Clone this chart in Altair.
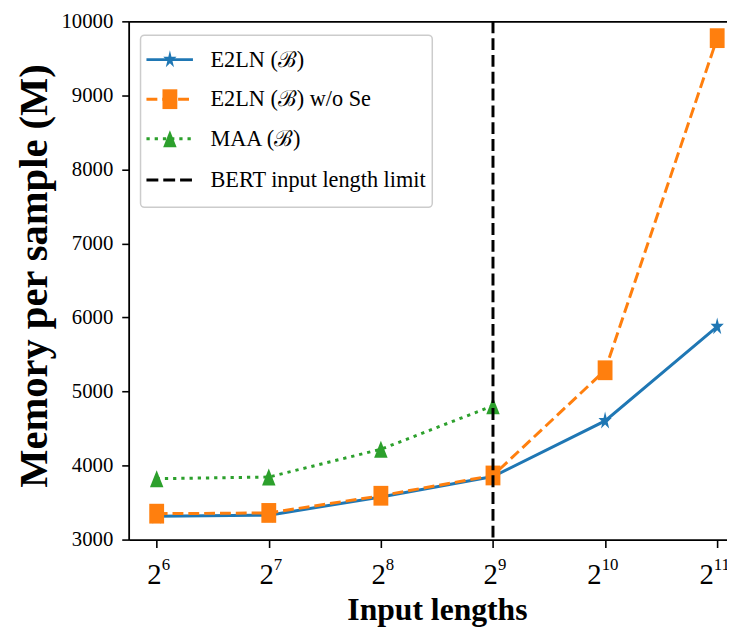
import altair as alt
import pandas as pd

# ---- data ----
lengths = [64, 128, 256, 512, 1024, 2048]
e2ln = [3315, 3330, 3575, 3852, 4603, 5875]
e2ln_wo_se = [3350, 3360, 3592, 3866, 5287, 9773]
maa_lengths = [64, 128, 256, 512]
maa = [3822, 3845, 4220, 4808]
bert_limit = 512
y_ticks = [3000, 4000, 5000, 6000, 7000, 8000, 9000, 10000]
x_exps = ["6", "7", "8", "9", "10", "11"]
series_names = ["E2LN (ℬ)", "E2LN (ℬ) w/o Se", "MAA (ℬ)", "BERT input length limit"]
colors = ["#1f77b4", "#ff7f0e", "#2ca02c", "#000000"]

FONT = "Liberation Serif"

# marker shapes (slightly narrow, as in the reference)
STAR = ("M0,-1L0.168,-0.309L0.713,-0.309L0.272,0.118L0.441,0.809L0,0.382"
        "L-0.441,0.809L-0.272,0.118L-0.713,-0.309L-0.168,-0.309Z")
SQUARE = "M-0.75,-1L0.75,-1L0.75,1L-0.75,1Z"
TRIANGLE = "M0,-1L0.8,1L-0.8,1Z"
shapes = [STAR, SQUARE, TRIANGLE]
sizes = [353, 400, 289]
dashes = [None, [11, 5], [3.3, 5]]

W, H = 605, 524
xscale = alt.Scale(type="log", base=2, domain=[53.817, 2176.1], nice=False)
yscale = alt.Scale(domain=[3000, 10000], nice=False, zero=False)

df_e2ln = pd.DataFrame({"len": lengths, "mem": e2ln})
df_wo = pd.DataFrame({"len": lengths, "mem": e2ln_wo_se})
df_maa = pd.DataFrame({"len": maa_lengths, "mem": maa})

bottom_axis = alt.Axis(values=lengths, labels=False, ticks=True, tickSize=8,
                       tickWidth=1.6, tickColor="black", domainWidth=1.8,
                       domainColor="black", grid=False, title="Input lengths",
                       titleFont=FONT, titleFontSize=32, titleFontWeight="bold",
                       titleColor="black", titleX=311.7, titleY=81,
                       titleBaseline="alphabetic", titleAlign="center")
left_axis = alt.Axis(values=y_ticks, format="d", tickSize=7, tickWidth=1.6,
                     tickColor="black", domainWidth=1.8, domainColor="black",
                     grid=False, labelFont=FONT, labelFontSize=21,
                     labelColor="black", labelPadding=9,
                     title="Memory per sample (M)",
                     titleFont=FONT, titleFontSize=41, titleFontWeight="bold",
                     titleColor="black", titleX=-83, titleY=257, titleAngle=-90,
                     titleBaseline="alphabetic", titleAlign="center")

layers = []
dfs = [df_e2ln, df_wo, df_maa]
for i, df in enumerate(dfs):
    xa = bottom_axis if i == 0 else None
    line_kw = dict(color=colors[i], strokeWidth=3, strokeCap="butt")
    if dashes[i]:
        line_kw["strokeDash"] = dashes[i]
    line = alt.Chart(df).mark_line(**line_kw).encode(
        x=alt.X("len:Q", scale=xscale, axis=xa),
        y=alt.Y("mem:Q", scale=yscale, axis=left_axis),
    )
    pts = alt.Chart(df).mark_point(shape=shapes[i], size=sizes[i], filled=True,
                                   color=colors[i], opacity=1).encode(
        x=alt.X("len:Q", scale=xscale, axis=None),
        y=alt.Y("mem:Q", scale=yscale, axis=left_axis),
    )
    layers += [line, pts]

# BERT limit vertical line (also carries the top spine)
vline = alt.Chart(pd.DataFrame({"lim": [bert_limit]})).mark_rule(
    color="black", strokeWidth=3, strokeDash=[12, 5]).encode(
    x=alt.X("lim:Q", scale=xscale,
            axis=alt.Axis(orient="top", labels=False, ticks=False, title=None,
                          domainWidth=1.8, domainColor="black", grid=False)),
)
layers.append(vline)

# x tick labels 2^n, drawn through the x scale
df_lab = pd.DataFrame({"len": lengths, "base": ["2"] * 6, "sup": x_exps})
single = df_lab[df_lab["sup"].str.len() == 1]
double = df_lab[df_lab["sup"].str.len() == 2]
for sub, dx in [(single, 5), (double, -3.5)]:
    layers.append(alt.Chart(sub).mark_text(
        align="right", baseline="alphabetic", dx=dx, font=FONT, fontSize=29,
        color="black").encode(
        x=alt.X("len:Q", scale=xscale, axis=None), y=alt.value(569), text="base:N"))
    layers.append(alt.Chart(sub).mark_text(
        align="left", baseline="alphabetic", dx=dx, font=FONT, fontSize=17,
        color="black").encode(
        x=alt.X("len:Q", scale=xscale, axis=None), y=alt.value(555), text="sup:N"))

# legend
one = pd.DataFrame({"k": [0]})
layers.append(alt.Chart(one).mark_rect(
    fill="white", fillOpacity=0.8, stroke="#cccccc", strokeWidth=1.5,
    cornerRadius=4).encode(x=alt.value(12), x2=alt.value(307),
                           y=alt.value(14), y2=alt.value(188)))
rows = [38.7, 78.7, 118.7, 160.5]
for i, name in enumerate(series_names):
    ry = rows[i]
    kw = dict(color=colors[i], strokeWidth=3, strokeCap="butt")
    if i == 3:
        kw["strokeDash"] = [12, 5]
    elif dashes[i]:
        kw["strokeDash"] = dashes[i]
    layers.append(alt.Chart(one).mark_rule(**kw).encode(
        x=alt.value(18), x2=alt.value(65), y=alt.value(ry)))
    if i < 3:
        layers.append(alt.Chart(one).mark_point(
            shape=shapes[i], size=sizes[i], filled=True, color=colors[i],
            opacity=1).encode(x=alt.value(41.7), y=alt.value(ry)))
    layers.append(alt.Chart(pd.DataFrame({"label": [name]})).mark_text(
        align="left", baseline="alphabetic", font=FONT, fontSize=22.5,
        color="black").encode(x=alt.value(82.7), y=alt.value(ry + 7.3),
                              text="label:N"))

chart = alt.layer(*layers).resolve_axis(x="independent").properties(
    width=W, height=H,
    autosize=alt.AutoSizeParams(type="none"),
    padding={"left": 122, "top": 10, "right": 0, "bottom": 95},
    background="white",
).configure_view(stroke=None)

chart.save("out.html", embed_options={"renderer": "svg", "actions": False})
